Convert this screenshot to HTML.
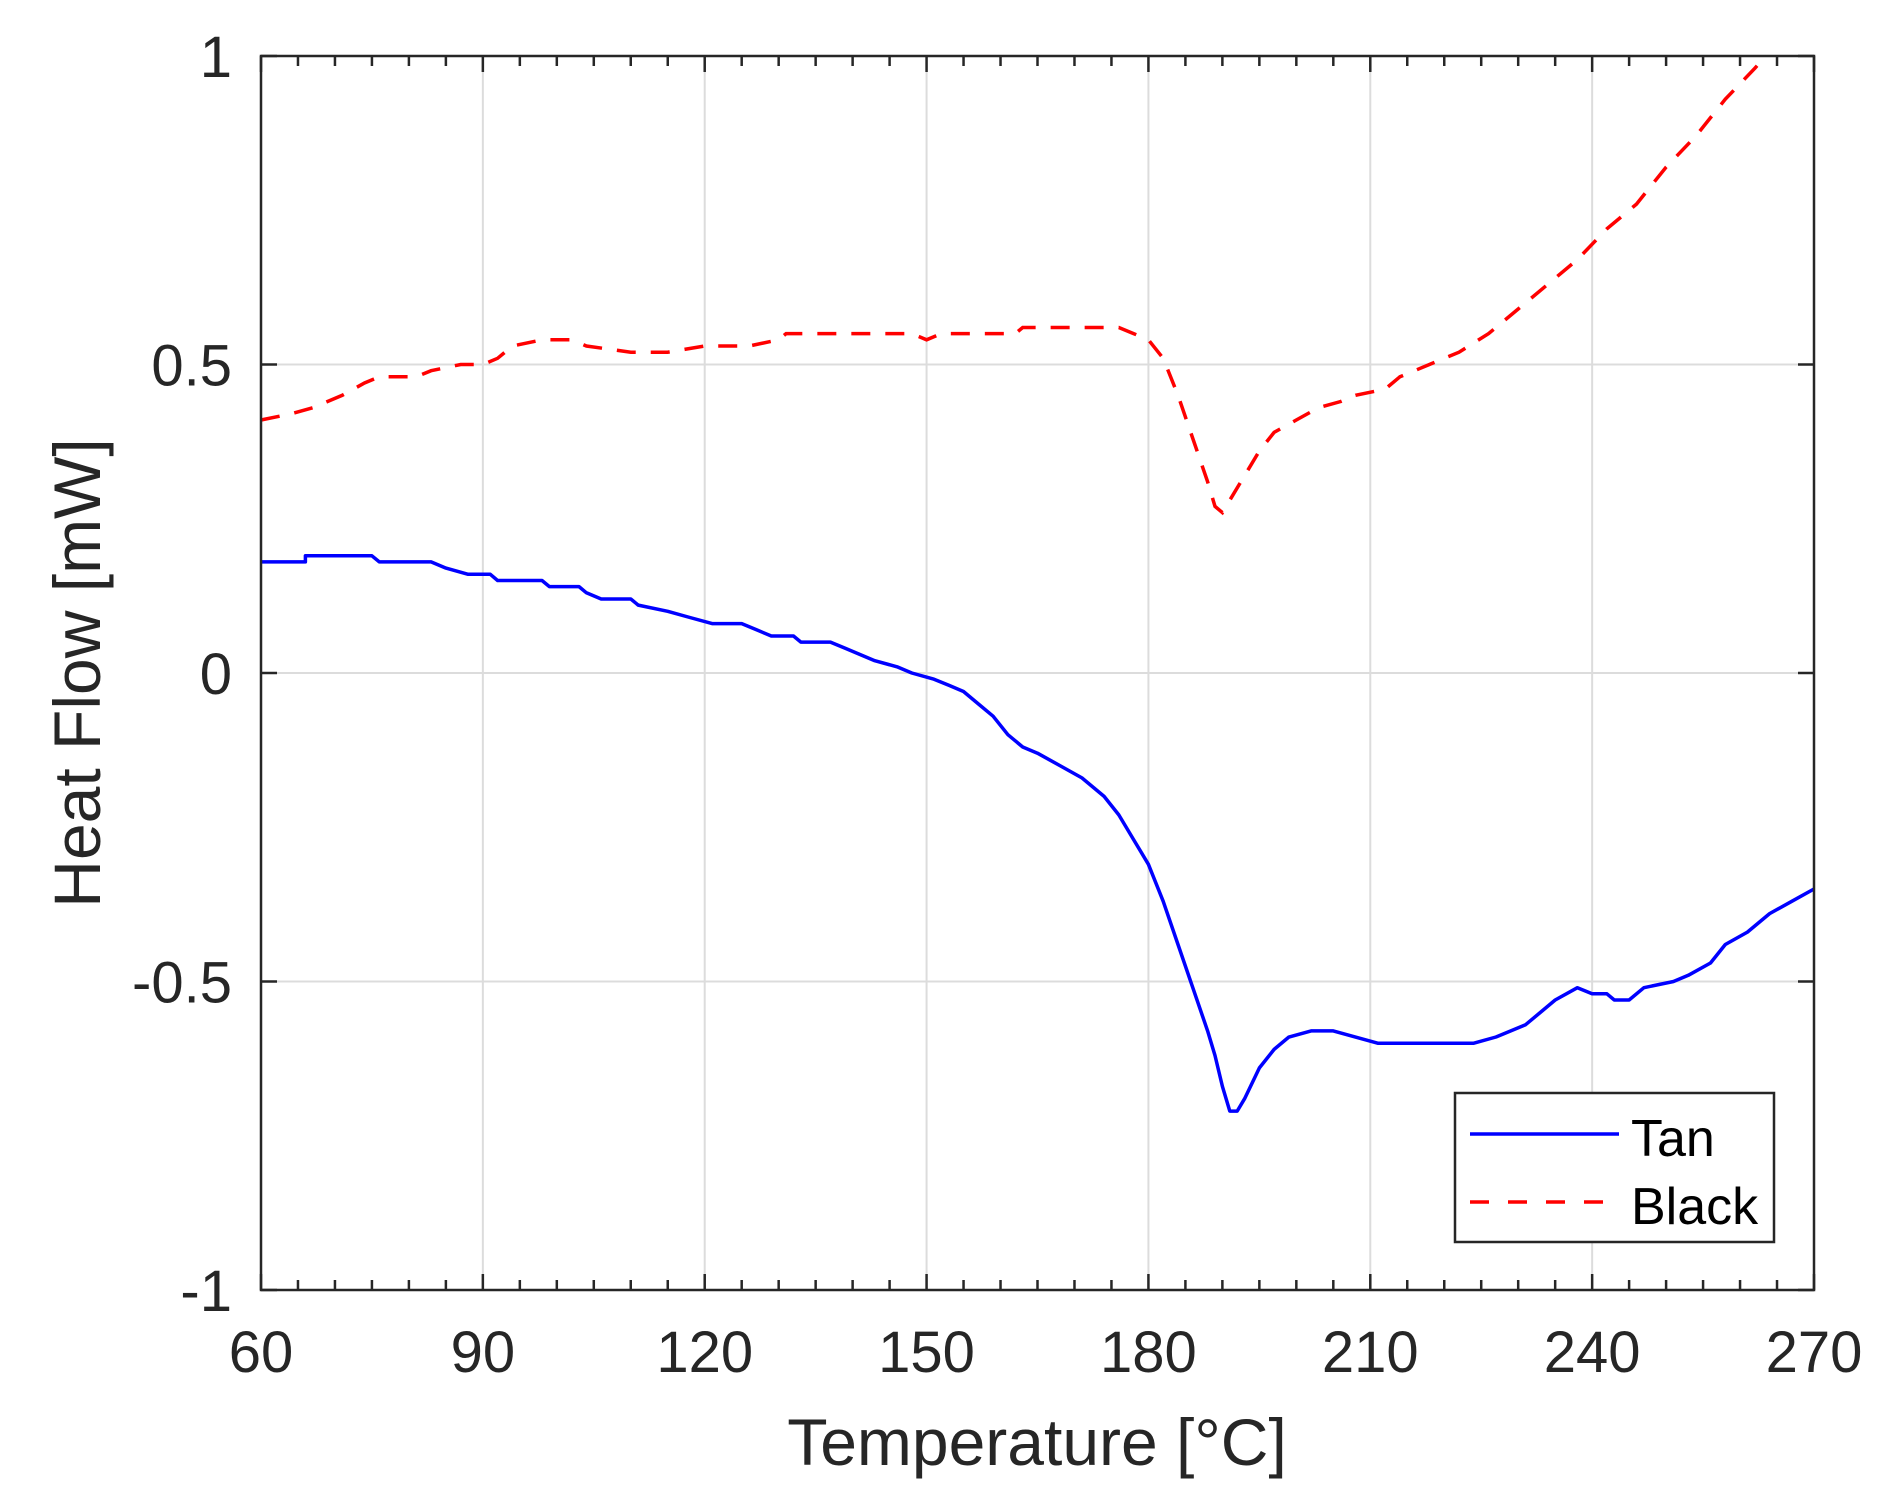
<!DOCTYPE html>
<html><head><meta charset="utf-8"><style>
html,body{margin:0;padding:0;background:#fff;width:1896px;height:1509px;overflow:hidden}
svg text{font-family:"Liberation Sans",sans-serif;fill:#262626}
</style></head><body>
<svg id="s" width="1896" height="1509" xmlns="http://www.w3.org/2000/svg">
<g id="grid"></g>
<polyline id="tan" fill="none" stroke="#0000ff" stroke-width="3.5" stroke-linejoin="round"/>
<polyline id="blk" fill="none" stroke="#ff0000" stroke-width="3.5" stroke-dasharray="19 15"/>
<rect x="261" y="56" width="1553" height="1234" fill="none" stroke="#262626" stroke-width="2.5"/>
<g id="ticks"></g>
<text x="1037" y="1465" font-size="66" text-anchor="middle">Temperature [°C]</text>
<text transform="translate(100,673) rotate(-90)" font-size="66" text-anchor="middle">Heat Flow [mW]</text>
<rect x="1455" y="1093" width="319" height="149" fill="#fff" stroke="#262626" stroke-width="2.5"/>
<line x1="1470" y1="1134" x2="1619" y2="1134" stroke="#0000ff" stroke-width="3.5"/>
<line x1="1470" y1="1202" x2="1604" y2="1202" stroke="#ff0000" stroke-width="3.5" stroke-dasharray="19 19"/>
<text x="1631" y="1156" font-size="52" style="fill:#000">Tan</text>
<text x="1631" y="1224" font-size="52" style="fill:#000">Black</text>
</svg>
<script>
var L=261,R=1814,T=56,B=1290;
function X(t){return L+(t-60)/210*(R-L)}
function Y(v){return 673-v*617}
var ns="http://www.w3.org/2000/svg",g=document.getElementById('grid'),tk=document.getElementById('ticks');
function el(p,n,a){var e=document.createElementNS(ns,n);for(var k in a)e.setAttribute(k,a[k]);p.appendChild(e);return e}
for(var t=60;t<=270;t+=5){var x=X(t);var maj=(t%30==0);
 if(maj&&t>60&&t<270)el(g,'line',{x1:x,y1:T,x2:x,y2:B,stroke:'#dcdcdc','stroke-width':2});
 var l=maj?16:10;
 el(tk,'line',{x1:x,y1:B,x2:x,y2:B-l,stroke:'#262626','stroke-width':2.5});
 el(tk,'line',{x1:x,y1:T,x2:x,y2:T+l,stroke:'#262626','stroke-width':2.5});
 if(maj){var e=el(tk,'text',{x:x,y:1372,'font-size':58,'text-anchor':'middle'});e.textContent=t;}
}
[[-1,'-1'],[-0.5,'-0.5'],[0,'0'],[0.5,'0.5'],[1,'1']].forEach(function(a){var y=Y(a[0]);
 if(a[0]>-1&&a[0]<1)el(g,'line',{x1:L,y1:y,x2:R,y2:y,stroke:'#dcdcdc','stroke-width':2});
 el(tk,'line',{x1:L,y1:y,x2:L+16,y2:y,stroke:'#262626','stroke-width':2.5});
 el(tk,'line',{x1:R,y1:y,x2:R-16,y2:y,stroke:'#262626','stroke-width':2.5});
 var e=el(tk,'text',{x:232,y:y+21,'font-size':58,'text-anchor':'end'});e.textContent=a[1];});
var tan=[60,.18,66,.18,66,.19,75,.19,76,.18,83,.18,85,.17,88,.16,91,.16,92,.15,98,.15,99,.14,103,.14,104,.13,106,.12,110,.12,111,.11,115,.10,118,.09,121,.08,125,.08,127,.07,129,.06,132,.06,133,.05,137,.05,139,.04,141,.03,143,.02,146,.01,148,0,151,-.01,153,-.02,155,-.03,157,-.05,159,-.07,161,-.1,163,-.12,165,-.13,168,-.15,171,-.17,174,-.2,176,-.23,178,-.27,180,-.31,182,-.37,184,-.44,186,-.51,188,-.58,189,-.62,190,-.67,191,-.71,192,-.71,193,-.69,195,-.64,197,-.61,199,-.59,202,-.58,205,-.58,208,-.59,211,-.6,224,-.6,227,-.59,229,-.58,231,-.57,233,-.55,235,-.53,238,-.51,240,-.52,242,-.52,243,-.53,245,-.53,247,-.51,251,-.5,253,-.49,256,-.47,258,-.44,261,-.42,264,-.39,267,-.37,270,-.35];
var blk=[60,.41,64,.42,67,.43,71,.45,74,.47,76,.48,81,.48,83,.49,87,.5,90,.5,92,.51,94,.53,98,.54,102,.54,104,.53,110,.52,115,.52,120,.53,126,.53,130,.54,131,.55,148,.55,150,.54,152,.55,162,.55,163,.56,176,.56,178,.55,180,.54,182,.51,184,.45,186,.38,188,.31,189,.27,190,.26,191,.28,193,.32,195,.36,197,.39,200,.41,203,.43,206,.44,208,.45,212,.46,214,.48,218,.5,222,.52,226,.55,230,.59,234,.63,238,.67,242,.72,246,.76,250,.82,254,.87,258,.93,262,.98,263.5,1.0];
function pts(a){var s=[];for(var i=0;i<a.length;i+=2)s.push(X(a[i]).toFixed(1)+','+Y(a[i+1]).toFixed(1));return s.join(' ')}
document.getElementById('tan').setAttribute('points',pts(tan));
document.getElementById('blk').setAttribute('points',pts(blk));
</script>
</body></html>
